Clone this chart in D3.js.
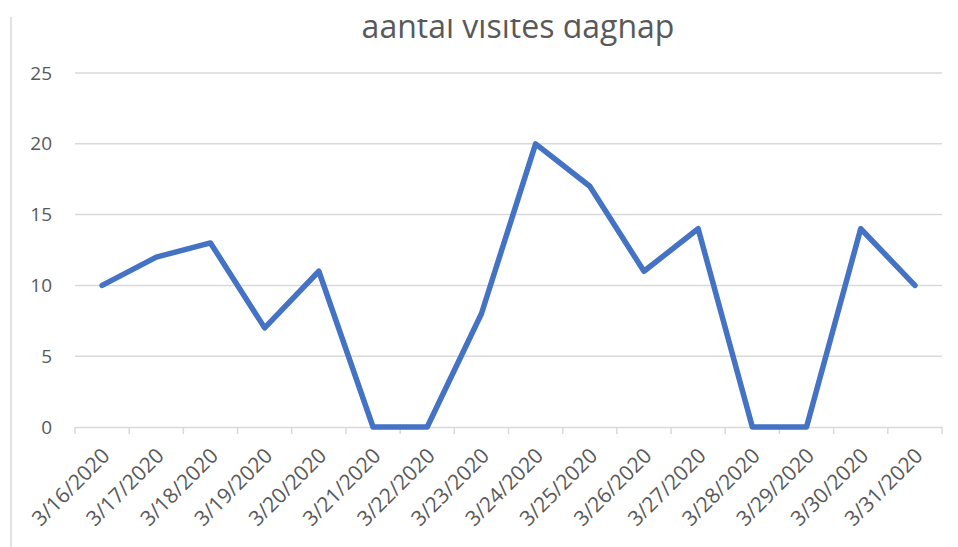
<!DOCTYPE html>
<html>
<head>
<meta charset="utf-8">
<script src="https://cdn.jsdelivr.net/npm/d3@7"></script>
<style>
  body { margin: 0; background: #fff; }
  text { font-family: "Open Sans", "Noto Sans", sans-serif; fill: #595959; }
</style>
</head>
<body>
<script>
// data
var dates = ["3/16/2020", "3/17/2020", "3/18/2020", "3/19/2020", "3/20/2020", "3/21/2020",
  "3/22/2020", "3/23/2020", "3/24/2020", "3/25/2020", "3/26/2020", "3/27/2020",
  "3/28/2020", "3/29/2020", "3/30/2020", "3/31/2020"];
var visits = [10, 12, 13, 7, 11, 0, 0, 8, 20, 17, 11, 14, 0, 0, 14, 10];
var yTicks = [0, 5, 10, 15, 20, 25];
var title = "aantal visites daghap";

var width = 958, height = 547;
var margin = {left: 75, right: 16, top: 73, bottom: 120};

var svg = d3.select("body").append("svg")
  .attr("width", width)
  .attr("height", height);

// the original picture is cropped at the top, title ascenders are cut
svg.append("clipPath").attr("id", "crop")
  .append("rect")
  .attr("x", 0).attr("y", 19)
  .attr("width", width).attr("height", height);

// outer chart border (only left edge visible)
svg.append("line")
  .attr("x1", 11).attr("x2", 11)
  .attr("y1", 17).attr("y2", height)
  .attr("stroke", "#d9d9d9").attr("stroke-width", 1.5);

var x = d3.scaleBand()
  .domain(dates)
  .range([margin.left, width - margin.right]);

var y = d3.scaleLinear()
  .domain([0, 25])
  .range([height - margin.bottom, margin.top]);

// gridlines
svg.append("g")
  .selectAll("line")
  .data(yTicks.filter(d => d > 0))
  .enter().append("line")
  .attr("x1", margin.left).attr("x2", width - margin.right)
  .attr("y1", d => y(d)).attr("y2", d => y(d))
  .attr("stroke", "#d9d9d9").attr("stroke-width", 1.5);

// y labels
svg.append("g")
  .selectAll("text")
  .data(yTicks)
  .enter().append("text")
  .attr("x", 52)
  .attr("y", d => y(d))
  .attr("dy", "0.35em")
  .attr("text-anchor", "end")
  .style("font-size", "19px")
  .text(d => d);

// x axis
var xAxis = svg.append("g")
  .attr("transform", "translate(0," + y(0) + ")")
  .call(d3.axisBottom(x).tickSize(0).tickSizeOuter(0));
xAxis.select(".domain").attr("stroke", "#d9d9d9").attr("stroke-width", 1.5);

// tick marks at category boundaries
var bounds = dates.map(d => x(d)).concat([x.range()[1]]);
xAxis.selectAll(".bound")
  .data(bounds)
  .enter().append("line")
  .attr("class", "bound")
  .attr("x1", d => d).attr("x2", d => d)
  .attr("y1", 0).attr("y2", 7)
  .attr("stroke", "#d9d9d9").attr("stroke-width", 1.5);

xAxis.selectAll(".tick text")
  .attr("y", 0).attr("dy", 0)
  .attr("transform", "translate(9,30) rotate(-45)")
  .attr("text-anchor", "end")
  .style("font-size", "21px")
  .attr("fill", "#595959");

// line
var line = d3.line()
  .x((d, i) => x(dates[i]) + x.bandwidth() / 2)
  .y(d => y(d));

svg.append("path")
  .datum(visits)
  .attr("fill", "none")
  .attr("stroke", "#4472C4")
  .attr("stroke-width", 5.5)
  .attr("stroke-linejoin", "round")
  .attr("stroke-linecap", "round")
  .attr("d", line);

// title (top is cut off in the original)
svg.append("text")
  .attr("clip-path", "url(#crop)")
  .attr("x", 518)
  .attr("y", 37.5)
  .attr("text-anchor", "middle")
  .style("font-size", "32px")
  .text(title);
</script>
</body>
</html>
